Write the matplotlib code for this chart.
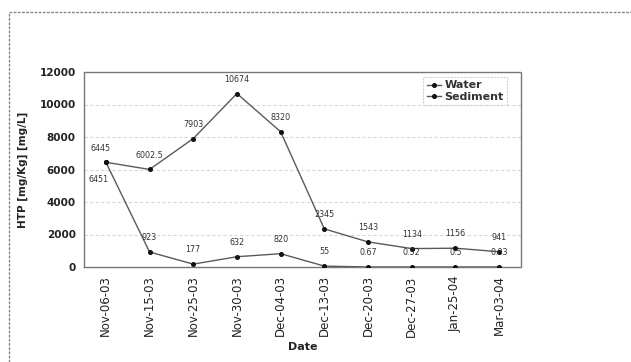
import matplotlib
matplotlib.use("Agg")
import matplotlib.pyplot as plt
from matplotlib.lines import Line2D

dates = ["Nov-06-03", "Nov-15-03", "Nov-25-03", "Nov-30-03", "Dec-04-03",
         "Dec-13-03", "Dec-20-03", "Dec-27-03", "Jan-25-04", "Mar-03-04"]
water = [6451, 923, 177, 632, 820, 55, 0.67, 0.52, 0.5, 0.03]
sediment = [6445, 6002.5, 7903, 10674, 8320, 2345, 1543, 1134, 1156, 941]
water_labels = ["6451", "923", "177", "632", "820", "55", "0.67", "0.52", "0.5", "0.03"]
sediment_labels = ["6445", "6002.5", "7903", "10674", "8320", "2345", "1543", "1134", "1156", "941"]
yticks = [0, 2000, 4000, 6000, 8000, 10000, 12000]

plt.rcParams['font.family'] = ['DejaVu Sans']

fig = plt.figure(figsize=(6.31, 3.62), dpi=100)
ax = fig.add_axes([84/631, 1-267/362, (521-84)/631, (267-72)/362])

x = list(range(len(dates)))
lc = "#5a5a5a"
ax.plot(x, water, color=lc, lw=1.0, marker='o', ms=2.6, mfc='#111111', mec='#111111', label="Water", zorder=3)
ax.plot(x, sediment, color=lc, lw=1.0, marker='o', ms=2.6, mfc='#111111', mec='#111111', label="Sediment", zorder=3)

for i, (v, t) in enumerate(zip(sediment, sediment_labels)):
    dx = -4 if i == 0 else 0
    ax.annotate(t, (i, v), xytext=(dx, 7), textcoords='offset points',
                ha='center', va='bottom', fontsize=5.8, color='#333333')
for i, (v, t) in enumerate(zip(water, water_labels)):
    if i == 0:
        ax.annotate(t, (i, v), xytext=(-5, -9), textcoords='offset points',
                    ha='center', va='top', fontsize=5.8, color='#333333')
    else:
        ax.annotate(t, (i, v), xytext=(0, 7), textcoords='offset points',
                    ha='center', va='bottom', fontsize=5.8, color='#333333')

ax.set_xlim(-0.5, len(dates) - 0.5)
ax.set_ylim(0, 12000)
ax.set_yticks(yticks)
ax.set_yticklabels([str(v) for v in yticks], fontsize=7.5, fontweight='bold', color='#222222')
ax.set_xticks(x)
ax.set_xticklabels(dates, rotation=90, fontsize=8.5, color='#222222')
ax.tick_params(length=0, pad=6)
ax.tick_params(axis='y', pad=6)

for yv in yticks[1:-1]:
    ax.axhline(yv, color='#d8d8d8', lw=0.8, ls=(0, (3, 2)), zorder=1)
for s in ax.spines.values():
    s.set_color('#777777')
    s.set_linestyle((0, (2, 1)))
    s.set_linewidth(1.0)

ax.set_ylabel("HTP [mg/Kg] [mg/L]", fontsize=7.5, fontweight='bold', color='#222222', labelpad=8)
ax.set_xlabel("Date", fontsize=8, fontweight='bold', color='#222222', labelpad=4)

leg = ax.legend(loc='upper right', bbox_to_anchor=(0.968, 0.974), borderaxespad=0,
                prop={'weight': 'bold', 'size': 8}, frameon=True, fancybox=False,
                handlelength=1.3, handletextpad=0.3, borderpad=0.3, labelspacing=0.15)
leg.get_frame().set_edgecolor('#c8c8c8')
leg.get_frame().set_linestyle((0, (2, 1)))
leg.get_frame().set_linewidth(0.8)
for t in leg.get_texts():
    t.set_color('#333333')

fig.add_artist(Line2D([9/631, 9/631], [0, 1-12/362], transform=fig.transFigure,
                      color='#888888', lw=1.0, ls=(0, (2, 1))))
fig.add_artist(Line2D([9/631, 1], [1-12/362, 1-12/362], transform=fig.transFigure,
                      color='#888888', lw=1.0, ls=(0, (2, 1))))

fig.savefig("out.png", dpi=100)
